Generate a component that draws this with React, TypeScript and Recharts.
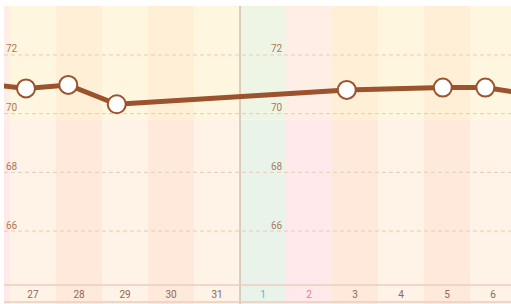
import { ComposedChart, Line, XAxis, YAxis, ReferenceArea, ReferenceLine } from 'recharts';

// day columns shown on the x axis (26 and 7 are only partly / not visible)
const dayLabels = ['26', '27', '28', '29', '30', '31', '1', '2', '3', '4', '5', '6', '7'];
const dayKinds = ['sun', 'wd', 'wd', 'wd', 'wd', 'wd', 'sat', 'sun', 'wd', 'wd', 'wd', 'wd', 'wd'];

// measurements: column index, hour of the day, weight
const weightDays = [0, 1, 2, 3, 8, 10, 11, 12];
const weightHours = [8.4, 8.35, 6.4, 7.7, 7.7, 9.8, 8.0, 8.4];
const weights = [71.03, 70.86, 70.98, 70.32, 70.81, 70.89, 70.89, 70.64];

const yTicks = [66, 68, 70, 72];
const targetLine = 69.8;
const monthStart = 6;

const X_MIN = 0.8696;
const X_MAX = 11.891;
const Y_MIN = 64.16;
const Y_MAX = 73.67;
const AXIS_BOTTOM = 63.58;
const CHART_BOTTOM = 63.5;

const data = weights.map((w, i) => ({ t: weightDays[i] + weightHours[i] / 24, w }));

const upperColor = (kind: string, i: number) =>
  kind === 'sun' ? '#FFEEE6' : kind === 'sat' ? '#EFF5E4' : i % 2 === 1 ? '#FFF6E0' : '#FFEFD7';
const lowerColor = (kind: string, i: number) =>
  kind === 'sun' ? '#FFE9EA' : kind === 'sat' ? '#E9F3EA' : i % 2 === 1 ? '#FFF2E6' : '#FFE9DA';

const tickColor = (kind: string) => (kind === 'sat' ? '#5BB5DD' : kind === 'sun' ? '#F07A8C' : '#8C6A58');

const XTick = (props: any) => {
  const { x, payload } = props;
  const idx = Math.floor(payload.value);
  return (
    <text x={x} y={298} textAnchor="middle" fontSize={10} fill={tickColor(dayKinds[idx])} fontFamily="Roboto">
      {dayLabels[idx]}
    </text>
  );
};

const GridLabel = (props: any) => {
  const { viewBox, value } = props;
  const y = viewBox.y;
  return (
    <g>
      <text x={6} y={y - 2.5} fontSize={10} fill="#A8795A" fontFamily="Roboto">{value}</text>
      <text x={271} y={y - 2.5} fontSize={10} fill="#A8795A" fontFamily="Roboto">{value}</text>
    </g>
  );
};

export default function App() {
  const xTicks = dayLabels.map((_, i) => i + 0.5).filter((t) => t > X_MIN && t < X_MAX);
  return (
    <div style={{ width: 511, height: 304, position: 'relative' }}>
      <style>{'body{margin:0}'}</style>
      <ComposedChart width={511} height={304} data={data} margin={{ top: 6, right: 0, bottom: 0, left: 4 }}>
        {dayLabels.map((_, i) => (
          <ReferenceArea
            key={`u-${i}`}
            x1={Math.max(i, X_MIN)}
            x2={Math.min(i + 1, X_MAX)}
            y1={targetLine}
            y2={Y_MAX}
            fill={upperColor(dayKinds[i], i)}
            fillOpacity={1}
            strokeWidth={0}
            ifOverflow="visible"
          />
        ))}
        {dayLabels.map((_, i) => (
          <ReferenceArea
            key={`l-${i}`}
            x1={Math.max(i, X_MIN)}
            x2={Math.min(i + 1, X_MAX)}
            y1={CHART_BOTTOM}
            y2={targetLine}
            fill={lowerColor(dayKinds[i], i)}
            fillOpacity={1}
            strokeWidth={0}
            ifOverflow="visible"
          />
        ))}
        {yTicks.map((v) => (
          <ReferenceLine
            key={`g-${v}`}
            y={v}
            stroke="#E6CBB8"
            strokeDasharray="4 3"
            label={<GridLabel value={v} />}
          />
        ))}
        <ReferenceLine
          segment={[{ x: monthStart, y: CHART_BOTTOM }, { x: monthStart, y: Y_MAX }]}
          stroke="#D3BFAD"
          strokeWidth={1.5}
          ifOverflow="visible"
        />
        <ReferenceLine y={AXIS_BOTTOM} stroke="#EBCDBD" strokeWidth={1.5} ifOverflow="visible" />
        <XAxis
          type="number"
          dataKey="t"
          domain={[X_MIN, X_MAX]}
          allowDataOverflow
          ticks={xTicks}
          tick={<XTick />}
          tickLine={false}
          axisLine={{ stroke: '#EBCDBD', strokeWidth: 1.5 }}
          height={19}
          interval={0}
        />
        <YAxis type="number" domain={[Y_MIN, Y_MAX]} allowDataOverflow hide />
        <Line
          type="linear"
          dataKey="w"
          stroke="#9A532C"
          strokeWidth={5}
          dot={{ r: 9, fill: '#FFFFFF', stroke: '#9A532C', strokeWidth: 2 }}
          activeDot={false}
          isAnimationActive={false}
        />
      </ComposedChart>
    </div>
  );
}
